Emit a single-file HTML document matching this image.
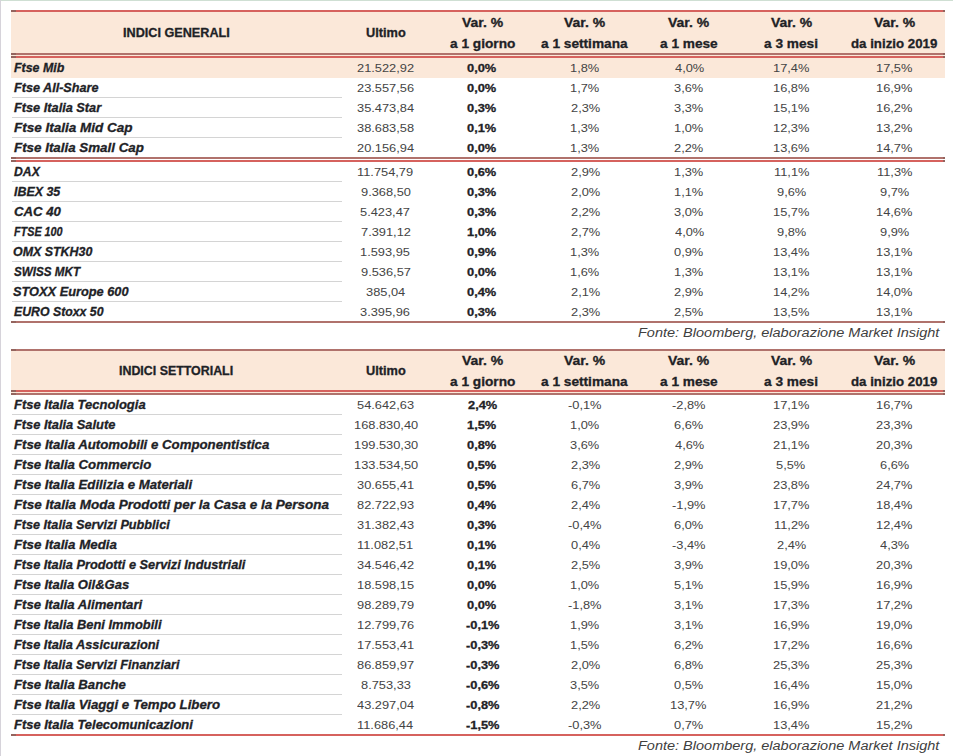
<!DOCTYPE html>
<html><head><meta charset="utf-8"><title>Indici</title><style>
*{margin:0;padding:0;box-sizing:border-box}
html,body{width:953px;height:756px;overflow:hidden;background:#fff}
body{position:relative;font-family:"Liberation Sans",sans-serif}
.r{position:absolute}
.t{position:absolute;white-space:nowrap;line-height:1;transform-origin:0 0}
.nm{font-weight:bold;font-style:italic;color:#1e2226;-webkit-text-stroke:0.3px #1e2226}
.nr{color:#444444}
.nb{font-weight:bold;color:#1e2226;-webkit-text-stroke:0.3px #1e2226}
.h{font-weight:bold;color:#1e2226;-webkit-text-stroke:0.3px #1e2226}
.fo{font-style:italic;color:#404040}
</style></head>
<body>
<div class="r" style="left:0px;top:0px;width:953px;height:1px;background:#cfdfd3"></div>
<div class="r" style="left:0px;top:0px;width:1px;height:756px;background:#d6d3da"></div>
<div class="r" style="left:11px;top:10px;width:934px;height:2px;background:#d6625e"></div>
<div class="r" style="left:11px;top:10px;width:5px;height:2px;background:#94645e"></div>
<div class="r" style="left:943px;top:10px;width:2px;height:2px;background:#94645e"></div>
<div class="r" style="left:11px;top:12px;width:934px;height:46px;background:#fbe8d9"></div>
<div class="r" style="left:11px;top:53px;width:934px;height:2px;background:#b0726c"></div>
<div class="r" style="left:11px;top:53px;width:5px;height:2px;background:#94645e"></div>
<div class="r" style="left:943px;top:53px;width:2px;height:2px;background:#94645e"></div>
<div class="r" style="left:11px;top:56px;width:934px;height:2px;background:#d6625e"></div>
<div class="r" style="left:11px;top:56px;width:5px;height:2px;background:#94645e"></div>
<div class="r" style="left:943px;top:56px;width:2px;height:2px;background:#94645e"></div>
<div id="t0" class="t h" style="left:122.50px;top:27.02px;font-size:12.5px;transform:scaleX(1.0114);">INDICI GENERALI</div>
<div id="t1" class="t h" style="left:366.16px;top:27.02px;font-size:12.5px;transform:scaleX(1.0211);">Ultimo</div>
<div id="t2" class="t h" style="left:461.71px;top:17.02px;font-size:12.5px;transform:scaleX(1.1162);">Var. %</div>
<div id="t3" class="t h" style="left:450.17px;top:38.02px;font-size:12.5px;transform:scaleX(1.0949);">a 1 giorno</div>
<div id="t4" class="t h" style="left:564.21px;top:17.02px;font-size:12.5px;transform:scaleX(1.1162);">Var. %</div>
<div id="t5" class="t h" style="left:541.07px;top:38.02px;font-size:12.5px;transform:scaleX(1.0937);">a 1 settimana</div>
<div id="t6" class="t h" style="left:667.70px;top:17.02px;font-size:12.5px;transform:scaleX(1.1162);">Var. %</div>
<div id="t7" class="t h" style="left:659.72px;top:38.02px;font-size:12.5px;transform:scaleX(1.0923);">a 1 mese</div>
<div id="t8" class="t h" style="left:770.71px;top:17.02px;font-size:12.5px;transform:scaleX(1.1162);">Var. %</div>
<div id="t9" class="t h" style="left:764.31px;top:38.02px;font-size:12.5px;transform:scaleX(1.0938);">a 3 mesi</div>
<div id="t10" class="t h" style="left:873.71px;top:17.02px;font-size:12.5px;transform:scaleX(1.1162);">Var. %</div>
<div id="t11" class="t h" style="left:851.32px;top:38.02px;font-size:12.5px;transform:scaleX(1.0617);">da inizio 2019</div>
<div class="r" style="left:11px;top:58px;width:934px;height:20px;background:#fbe8d9"></div>
<div id="t12" class="t nm" style="left:14.45px;top:61.92px;font-size:12.5px;transform:scaleX(0.9902);">Ftse Mib</div>
<div id="t13" class="t nr" style="left:357.16px;top:62.85px;font-size:11.4px;transform:scaleX(1.1260);">21.522,92</div>
<div id="t14" class="t nb" style="left:467.44px;top:62.85px;font-size:11.4px;transform:scaleX(1.1260);">0,0%</div>
<div id="t15" class="t nr" style="left:569.89px;top:62.85px;font-size:11.4px;transform:scaleX(1.1260);">1,8%</div>
<div id="t16" class="t nr" style="left:674.52px;top:62.85px;font-size:11.4px;transform:scaleX(1.1260);">4,0%</div>
<div id="t17" class="t nr" style="left:772.97px;top:62.85px;font-size:11.4px;transform:scaleX(1.1260);">17,4%</div>
<div id="t18" class="t nr" style="left:875.97px;top:62.85px;font-size:11.4px;transform:scaleX(1.1260);">17,5%</div>
<div class="r" style="left:12px;top:97px;width:330px;height:1px;background:#d4d4d4"></div>
<div id="t19" class="t nm" style="left:14.46px;top:81.92px;font-size:12.5px;transform:scaleX(1.0107);">Ftse All-Share</div>
<div id="t20" class="t nr" style="left:357.16px;top:82.85px;font-size:11.4px;transform:scaleX(1.1260);">23.557,56</div>
<div id="t21" class="t nb" style="left:467.44px;top:82.85px;font-size:11.4px;transform:scaleX(1.1260);">0,0%</div>
<div id="t22" class="t nr" style="left:569.89px;top:82.85px;font-size:11.4px;transform:scaleX(1.1260);">1,7%</div>
<div id="t23" class="t nr" style="left:673.97px;top:82.85px;font-size:11.4px;transform:scaleX(1.1260);">3,6%</div>
<div id="t24" class="t nr" style="left:772.97px;top:82.85px;font-size:11.4px;transform:scaleX(1.1260);">16,8%</div>
<div id="t25" class="t nr" style="left:875.97px;top:82.85px;font-size:11.4px;transform:scaleX(1.1260);">16,9%</div>
<div class="r" style="left:12px;top:117px;width:330px;height:1px;background:#d4d4d4"></div>
<div id="t26" class="t nm" style="left:14.46px;top:101.92px;font-size:12.5px;transform:scaleX(1.0198);">Ftse Italia Star</div>
<div id="t27" class="t nr" style="left:356.60px;top:102.85px;font-size:11.4px;transform:scaleX(1.1260);">35.473,84</div>
<div id="t28" class="t nb" style="left:467.44px;top:102.85px;font-size:11.4px;transform:scaleX(1.1260);">0,3%</div>
<div id="t29" class="t nr" style="left:570.64px;top:102.85px;font-size:11.4px;transform:scaleX(1.1260);">2,3%</div>
<div id="t30" class="t nr" style="left:673.97px;top:102.85px;font-size:11.4px;transform:scaleX(1.1260);">3,3%</div>
<div id="t31" class="t nr" style="left:772.97px;top:102.85px;font-size:11.4px;transform:scaleX(1.1260);">15,1%</div>
<div id="t32" class="t nr" style="left:875.97px;top:102.85px;font-size:11.4px;transform:scaleX(1.1260);">16,2%</div>
<div class="r" style="left:12px;top:137px;width:330px;height:1px;background:#d4d4d4"></div>
<div id="t33" class="t nm" style="left:14.45px;top:121.92px;font-size:12.5px;transform:scaleX(1.0809);">Ftse Italia Mid Cap</div>
<div id="t34" class="t nr" style="left:357.16px;top:122.85px;font-size:11.4px;transform:scaleX(1.1260);">38.683,58</div>
<div id="t35" class="t nb" style="left:467.44px;top:122.85px;font-size:11.4px;transform:scaleX(1.1260);">0,1%</div>
<div id="t36" class="t nr" style="left:569.89px;top:122.85px;font-size:11.4px;transform:scaleX(1.1260);">1,3%</div>
<div id="t37" class="t nr" style="left:673.90px;top:122.85px;font-size:11.4px;transform:scaleX(1.1260);">1,0%</div>
<div id="t38" class="t nr" style="left:772.97px;top:122.85px;font-size:11.4px;transform:scaleX(1.1260);">12,3%</div>
<div id="t39" class="t nr" style="left:875.97px;top:122.85px;font-size:11.4px;transform:scaleX(1.1260);">13,2%</div>
<div id="t40" class="t nm" style="left:14.47px;top:141.92px;font-size:12.5px;transform:scaleX(1.0686);">Ftse Italia Small Cap</div>
<div id="t41" class="t nr" style="left:356.60px;top:142.85px;font-size:11.4px;transform:scaleX(1.1260);">20.156,94</div>
<div id="t42" class="t nb" style="left:467.44px;top:142.85px;font-size:11.4px;transform:scaleX(1.1260);">0,0%</div>
<div id="t43" class="t nr" style="left:569.89px;top:142.85px;font-size:11.4px;transform:scaleX(1.1260);">1,3%</div>
<div id="t44" class="t nr" style="left:673.97px;top:142.85px;font-size:11.4px;transform:scaleX(1.1260);">2,2%</div>
<div id="t45" class="t nr" style="left:772.97px;top:142.85px;font-size:11.4px;transform:scaleX(1.1260);">13,6%</div>
<div id="t46" class="t nr" style="left:875.97px;top:142.85px;font-size:11.4px;transform:scaleX(1.1260);">14,7%</div>
<div class="r" style="left:11px;top:157px;width:934px;height:2px;background:#b0726c"></div>
<div class="r" style="left:11px;top:157px;width:5px;height:2px;background:#94645e"></div>
<div class="r" style="left:943px;top:157px;width:2px;height:2px;background:#94645e"></div>
<div class="r" style="left:11px;top:160px;width:934px;height:2px;background:#d6625e"></div>
<div class="r" style="left:11px;top:160px;width:5px;height:2px;background:#94645e"></div>
<div class="r" style="left:943px;top:160px;width:2px;height:2px;background:#94645e"></div>
<div class="r" style="left:12px;top:181px;width:330px;height:1px;background:#d4d4d4"></div>
<div id="t47" class="t nm" style="left:14.45px;top:165.92px;font-size:12.5px;transform:scaleX(0.9778);">DAX</div>
<div id="t48" class="t nr" style="left:357.23px;top:166.85px;font-size:11.4px;transform:scaleX(1.1260);">11.754,79</div>
<div id="t49" class="t nb" style="left:467.44px;top:166.85px;font-size:11.4px;transform:scaleX(1.1260);">0,6%</div>
<div id="t50" class="t nr" style="left:570.64px;top:166.85px;font-size:11.4px;transform:scaleX(1.1260);">2,9%</div>
<div id="t51" class="t nr" style="left:673.90px;top:166.85px;font-size:11.4px;transform:scaleX(1.1260);">1,3%</div>
<div id="t52" class="t nr" style="left:773.62px;top:166.85px;font-size:11.4px;transform:scaleX(1.1260);">11,1%</div>
<div id="t53" class="t nr" style="left:876.62px;top:166.85px;font-size:11.4px;transform:scaleX(1.1260);">11,3%</div>
<div class="r" style="left:12px;top:201px;width:330px;height:1px;background:#d4d4d4"></div>
<div id="t54" class="t nm" style="left:14.46px;top:185.92px;font-size:12.5px;transform:scaleX(0.9936);">IBEX 35</div>
<div id="t55" class="t nr" style="left:360.56px;top:186.85px;font-size:11.4px;transform:scaleX(1.1260);">9.368,50</div>
<div id="t56" class="t nb" style="left:467.44px;top:186.85px;font-size:11.4px;transform:scaleX(1.1260);">0,3%</div>
<div id="t57" class="t nr" style="left:570.64px;top:186.85px;font-size:11.4px;transform:scaleX(1.1260);">2,0%</div>
<div id="t58" class="t nr" style="left:673.90px;top:186.85px;font-size:11.4px;transform:scaleX(1.1260);">1,1%</div>
<div id="t59" class="t nr" style="left:777.02px;top:186.85px;font-size:11.4px;transform:scaleX(1.1260);">9,6%</div>
<div id="t60" class="t nr" style="left:880.02px;top:186.85px;font-size:11.4px;transform:scaleX(1.1260);">9,7%</div>
<div class="r" style="left:12px;top:221px;width:330px;height:1px;background:#d4d4d4"></div>
<div id="t61" class="t nm" style="left:14.35px;top:205.92px;font-size:12.5px;transform:scaleX(1.0556);">CAC 40</div>
<div id="t62" class="t nr" style="left:360.05px;top:206.85px;font-size:11.4px;transform:scaleX(1.1260);">5.423,47</div>
<div id="t63" class="t nb" style="left:467.44px;top:206.85px;font-size:11.4px;transform:scaleX(1.1260);">0,3%</div>
<div id="t64" class="t nr" style="left:570.64px;top:206.85px;font-size:11.4px;transform:scaleX(1.1260);">2,2%</div>
<div id="t65" class="t nr" style="left:673.97px;top:206.85px;font-size:11.4px;transform:scaleX(1.1260);">3,0%</div>
<div id="t66" class="t nr" style="left:772.97px;top:206.85px;font-size:11.4px;transform:scaleX(1.1260);">15,7%</div>
<div id="t67" class="t nr" style="left:875.97px;top:206.85px;font-size:11.4px;transform:scaleX(1.1260);">14,6%</div>
<div class="r" style="left:12px;top:241px;width:330px;height:1px;background:#d4d4d4"></div>
<div id="t68" class="t nm" style="left:14.46px;top:225.92px;font-size:12.5px;transform:scaleX(0.8632);">FTSE 100</div>
<div id="t69" class="t nr" style="left:360.61px;top:226.85px;font-size:11.4px;transform:scaleX(1.1260);">7.391,12</div>
<div id="t70" class="t nb" style="left:467.44px;top:226.85px;font-size:11.4px;transform:scaleX(1.1260);">1,0%</div>
<div id="t71" class="t nr" style="left:570.64px;top:226.85px;font-size:11.4px;transform:scaleX(1.1260);">2,7%</div>
<div id="t72" class="t nr" style="left:674.52px;top:226.85px;font-size:11.4px;transform:scaleX(1.1260);">4,0%</div>
<div id="t73" class="t nr" style="left:777.02px;top:226.85px;font-size:11.4px;transform:scaleX(1.1260);">9,8%</div>
<div id="t74" class="t nr" style="left:880.02px;top:226.85px;font-size:11.4px;transform:scaleX(1.1260);">9,9%</div>
<div class="r" style="left:12px;top:261px;width:330px;height:1px;background:#d4d4d4"></div>
<div id="t75" class="t nm" style="left:13.49px;top:245.92px;font-size:12.5px;transform:scaleX(0.9937);">OMX STKH30</div>
<div id="t76" class="t nr" style="left:360.00px;top:246.85px;font-size:11.4px;transform:scaleX(1.1260);">1.593,95</div>
<div id="t77" class="t nb" style="left:467.44px;top:246.85px;font-size:11.4px;transform:scaleX(1.1260);">0,9%</div>
<div id="t78" class="t nr" style="left:569.89px;top:246.85px;font-size:11.4px;transform:scaleX(1.1260);">1,3%</div>
<div id="t79" class="t nr" style="left:673.97px;top:246.85px;font-size:11.4px;transform:scaleX(1.1260);">0,9%</div>
<div id="t80" class="t nr" style="left:772.97px;top:246.85px;font-size:11.4px;transform:scaleX(1.1260);">13,4%</div>
<div id="t81" class="t nr" style="left:875.97px;top:246.85px;font-size:11.4px;transform:scaleX(1.1260);">13,1%</div>
<div class="r" style="left:12px;top:281px;width:330px;height:1px;background:#d4d4d4"></div>
<div id="t82" class="t nm" style="left:13.60px;top:265.92px;font-size:12.5px;transform:scaleX(0.9324);">SWISS MKT</div>
<div id="t83" class="t nr" style="left:360.61px;top:266.85px;font-size:11.4px;transform:scaleX(1.1260);">9.536,57</div>
<div id="t84" class="t nb" style="left:467.44px;top:266.85px;font-size:11.4px;transform:scaleX(1.1260);">0,0%</div>
<div id="t85" class="t nr" style="left:569.89px;top:266.85px;font-size:11.4px;transform:scaleX(1.1260);">1,6%</div>
<div id="t86" class="t nr" style="left:673.90px;top:266.85px;font-size:11.4px;transform:scaleX(1.1260);">1,3%</div>
<div id="t87" class="t nr" style="left:772.97px;top:266.85px;font-size:11.4px;transform:scaleX(1.1260);">13,1%</div>
<div id="t88" class="t nr" style="left:875.97px;top:266.85px;font-size:11.4px;transform:scaleX(1.1260);">13,1%</div>
<div class="r" style="left:12px;top:301px;width:330px;height:1px;background:#d4d4d4"></div>
<div id="t89" class="t nm" style="left:13.42px;top:285.92px;font-size:12.5px;transform:scaleX(1.0223);">STOXX Europe 600</div>
<div id="t90" class="t nr" style="left:365.73px;top:286.85px;font-size:11.4px;transform:scaleX(1.1260);">385,04</div>
<div id="t91" class="t nb" style="left:467.44px;top:286.85px;font-size:11.4px;transform:scaleX(1.1260);">0,4%</div>
<div id="t92" class="t nr" style="left:570.64px;top:286.85px;font-size:11.4px;transform:scaleX(1.1260);">2,1%</div>
<div id="t93" class="t nr" style="left:673.97px;top:286.85px;font-size:11.4px;transform:scaleX(1.1260);">2,9%</div>
<div id="t94" class="t nr" style="left:772.97px;top:286.85px;font-size:11.4px;transform:scaleX(1.1260);">14,2%</div>
<div id="t95" class="t nr" style="left:875.97px;top:286.85px;font-size:11.4px;transform:scaleX(1.1260);">14,0%</div>
<div id="t96" class="t nm" style="left:14.47px;top:305.92px;font-size:12.5px;transform:scaleX(0.9835);">EURO Stoxx 50</div>
<div id="t97" class="t nr" style="left:360.05px;top:306.85px;font-size:11.4px;transform:scaleX(1.1260);">3.395,96</div>
<div id="t98" class="t nb" style="left:467.44px;top:306.85px;font-size:11.4px;transform:scaleX(1.1260);">0,3%</div>
<div id="t99" class="t nr" style="left:570.64px;top:306.85px;font-size:11.4px;transform:scaleX(1.1260);">2,3%</div>
<div id="t100" class="t nr" style="left:673.97px;top:306.85px;font-size:11.4px;transform:scaleX(1.1260);">2,5%</div>
<div id="t101" class="t nr" style="left:772.97px;top:306.85px;font-size:11.4px;transform:scaleX(1.1260);">13,5%</div>
<div id="t102" class="t nr" style="left:875.97px;top:306.85px;font-size:11.4px;transform:scaleX(1.1260);">13,1%</div>
<div class="r" style="left:11px;top:321px;width:934px;height:2px;background:#b0726c"></div>
<div class="r" style="left:11px;top:321px;width:5px;height:2px;background:#94645e"></div>
<div class="r" style="left:943px;top:321px;width:2px;height:2px;background:#94645e"></div>
<div id="t103" class="t fo" style="left:638.33px;top:326.94px;font-size:12px;transform:scaleX(1.2080);">Fonte: Bloomberg, elaborazione Market Insight</div>
<div class="r" style="left:11px;top:349px;width:934px;height:2px;background:#b0726c"></div>
<div class="r" style="left:11px;top:349px;width:5px;height:2px;background:#94645e"></div>
<div class="r" style="left:943px;top:349px;width:2px;height:2px;background:#94645e"></div>
<div class="r" style="left:11px;top:351px;width:934px;height:44px;background:#fbe8d9"></div>
<div class="r" style="left:11px;top:390px;width:934px;height:2px;background:#d6625e"></div>
<div class="r" style="left:11px;top:390px;width:5px;height:2px;background:#94645e"></div>
<div class="r" style="left:943px;top:390px;width:2px;height:2px;background:#94645e"></div>
<div class="r" style="left:11px;top:393px;width:934px;height:2px;background:#b0726c"></div>
<div class="r" style="left:11px;top:393px;width:5px;height:2px;background:#94645e"></div>
<div class="r" style="left:943px;top:393px;width:2px;height:2px;background:#94645e"></div>
<div id="t104" class="t h" style="left:118.83px;top:365.12px;font-size:12.5px;transform:scaleX(0.9920);">INDICI SETTORIALI</div>
<div id="t105" class="t h" style="left:366.16px;top:365.12px;font-size:12.5px;transform:scaleX(1.0211);">Ultimo</div>
<div id="t106" class="t h" style="left:461.71px;top:355.02px;font-size:12.5px;transform:scaleX(1.1162);">Var. %</div>
<div id="t107" class="t h" style="left:450.17px;top:376.02px;font-size:12.5px;transform:scaleX(1.0949);">a 1 giorno</div>
<div id="t108" class="t h" style="left:564.21px;top:355.02px;font-size:12.5px;transform:scaleX(1.1162);">Var. %</div>
<div id="t109" class="t h" style="left:541.07px;top:376.02px;font-size:12.5px;transform:scaleX(1.0937);">a 1 settimana</div>
<div id="t110" class="t h" style="left:667.70px;top:355.02px;font-size:12.5px;transform:scaleX(1.1162);">Var. %</div>
<div id="t111" class="t h" style="left:659.72px;top:376.02px;font-size:12.5px;transform:scaleX(1.0923);">a 1 mese</div>
<div id="t112" class="t h" style="left:770.71px;top:355.02px;font-size:12.5px;transform:scaleX(1.1162);">Var. %</div>
<div id="t113" class="t h" style="left:764.31px;top:376.02px;font-size:12.5px;transform:scaleX(1.0938);">a 3 mesi</div>
<div id="t114" class="t h" style="left:873.71px;top:355.02px;font-size:12.5px;transform:scaleX(1.1162);">Var. %</div>
<div id="t115" class="t h" style="left:851.32px;top:376.02px;font-size:12.5px;transform:scaleX(1.0617);">da inizio 2019</div>
<div class="r" style="left:12px;top:414px;width:330px;height:1px;background:#d4d4d4"></div>
<div id="t116" class="t nm" style="left:14.46px;top:398.92px;font-size:12.5px;transform:scaleX(1.0394);">Ftse Italia Tecnologia</div>
<div id="t117" class="t nr" style="left:357.09px;top:399.85px;font-size:11.4px;transform:scaleX(1.1260);">54.642,63</div>
<div id="t118" class="t nb" style="left:468.00px;top:399.85px;font-size:11.4px;transform:scaleX(1.1260);">2,4%</div>
<div id="t119" class="t nr" style="left:568.15px;top:399.85px;font-size:11.4px;transform:scaleX(1.1260);">-0,1%</div>
<div id="t120" class="t nr" style="left:672.11px;top:399.85px;font-size:11.4px;transform:scaleX(1.1260);">-2,8%</div>
<div id="t121" class="t nr" style="left:772.97px;top:399.85px;font-size:11.4px;transform:scaleX(1.1260);">17,1%</div>
<div id="t122" class="t nr" style="left:875.97px;top:399.85px;font-size:11.4px;transform:scaleX(1.1260);">16,7%</div>
<div class="r" style="left:12px;top:434px;width:330px;height:1px;background:#d4d4d4"></div>
<div id="t123" class="t nm" style="left:14.46px;top:418.92px;font-size:12.5px;transform:scaleX(1.0273);">Ftse Italia Salute</div>
<div id="t124" class="t nr" style="left:353.54px;top:419.85px;font-size:11.4px;transform:scaleX(1.1260);">168.830,40</div>
<div id="t125" class="t nb" style="left:467.44px;top:419.85px;font-size:11.4px;transform:scaleX(1.1260);">1,5%</div>
<div id="t126" class="t nr" style="left:569.89px;top:419.85px;font-size:11.4px;transform:scaleX(1.1260);">1,0%</div>
<div id="t127" class="t nr" style="left:673.97px;top:419.85px;font-size:11.4px;transform:scaleX(1.1260);">6,6%</div>
<div id="t128" class="t nr" style="left:772.97px;top:419.85px;font-size:11.4px;transform:scaleX(1.1260);">23,9%</div>
<div id="t129" class="t nr" style="left:875.97px;top:419.85px;font-size:11.4px;transform:scaleX(1.1260);">23,3%</div>
<div class="r" style="left:12px;top:454px;width:330px;height:1px;background:#d4d4d4"></div>
<div id="t130" class="t nm" style="left:14.47px;top:438.92px;font-size:12.5px;transform:scaleX(1.0585);">Ftse Italia Automobili e Componentistica</div>
<div id="t131" class="t nr" style="left:353.54px;top:439.85px;font-size:11.4px;transform:scaleX(1.1260);">199.530,30</div>
<div id="t132" class="t nb" style="left:467.44px;top:439.85px;font-size:11.4px;transform:scaleX(1.1260);">0,8%</div>
<div id="t133" class="t nr" style="left:570.08px;top:439.85px;font-size:11.4px;transform:scaleX(1.1260);">3,6%</div>
<div id="t134" class="t nr" style="left:674.52px;top:439.85px;font-size:11.4px;transform:scaleX(1.1260);">4,6%</div>
<div id="t135" class="t nr" style="left:772.97px;top:439.85px;font-size:11.4px;transform:scaleX(1.1260);">21,1%</div>
<div id="t136" class="t nr" style="left:875.97px;top:439.85px;font-size:11.4px;transform:scaleX(1.1260);">20,3%</div>
<div class="r" style="left:12px;top:474px;width:330px;height:1px;background:#d4d4d4"></div>
<div id="t137" class="t nm" style="left:14.47px;top:458.92px;font-size:12.5px;transform:scaleX(1.0562);">Ftse Italia Commercio</div>
<div id="t138" class="t nr" style="left:353.54px;top:459.85px;font-size:11.4px;transform:scaleX(1.1260);">133.534,50</div>
<div id="t139" class="t nb" style="left:467.44px;top:459.85px;font-size:11.4px;transform:scaleX(1.1260);">0,5%</div>
<div id="t140" class="t nr" style="left:570.64px;top:459.85px;font-size:11.4px;transform:scaleX(1.1260);">2,3%</div>
<div id="t141" class="t nr" style="left:673.97px;top:459.85px;font-size:11.4px;transform:scaleX(1.1260);">2,9%</div>
<div id="t142" class="t nr" style="left:776.46px;top:459.85px;font-size:11.4px;transform:scaleX(1.1260);">5,5%</div>
<div id="t143" class="t nr" style="left:880.02px;top:459.85px;font-size:11.4px;transform:scaleX(1.1260);">6,6%</div>
<div class="r" style="left:12px;top:494px;width:330px;height:1px;background:#d4d4d4"></div>
<div id="t144" class="t nm" style="left:14.46px;top:478.92px;font-size:12.5px;transform:scaleX(1.0556);">Ftse Italia Edilizia e Materiali</div>
<div id="t145" class="t nr" style="left:357.16px;top:479.85px;font-size:11.4px;transform:scaleX(1.1260);">30.655,41</div>
<div id="t146" class="t nb" style="left:467.44px;top:479.85px;font-size:11.4px;transform:scaleX(1.1260);">0,5%</div>
<div id="t147" class="t nr" style="left:570.64px;top:479.85px;font-size:11.4px;transform:scaleX(1.1260);">6,7%</div>
<div id="t148" class="t nr" style="left:673.97px;top:479.85px;font-size:11.4px;transform:scaleX(1.1260);">3,9%</div>
<div id="t149" class="t nr" style="left:772.97px;top:479.85px;font-size:11.4px;transform:scaleX(1.1260);">23,8%</div>
<div id="t150" class="t nr" style="left:875.97px;top:479.85px;font-size:11.4px;transform:scaleX(1.1260);">24,7%</div>
<div class="r" style="left:12px;top:514px;width:330px;height:1px;background:#d4d4d4"></div>
<div id="t151" class="t nm" style="left:14.47px;top:498.92px;font-size:12.5px;transform:scaleX(1.0771);">Ftse Italia Moda Prodotti per la Casa e la Persona</div>
<div id="t152" class="t nr" style="left:357.16px;top:499.85px;font-size:11.4px;transform:scaleX(1.1260);">82.722,93</div>
<div id="t153" class="t nb" style="left:467.44px;top:499.85px;font-size:11.4px;transform:scaleX(1.1260);">0,4%</div>
<div id="t154" class="t nr" style="left:570.64px;top:499.85px;font-size:11.4px;transform:scaleX(1.1260);">2,4%</div>
<div id="t155" class="t nr" style="left:672.11px;top:499.85px;font-size:11.4px;transform:scaleX(1.1260);">-1,9%</div>
<div id="t156" class="t nr" style="left:772.97px;top:499.85px;font-size:11.4px;transform:scaleX(1.1260);">17,7%</div>
<div id="t157" class="t nr" style="left:875.97px;top:499.85px;font-size:11.4px;transform:scaleX(1.1260);">18,4%</div>
<div class="r" style="left:12px;top:534px;width:330px;height:1px;background:#d4d4d4"></div>
<div id="t158" class="t nm" style="left:14.46px;top:518.92px;font-size:12.5px;transform:scaleX(1.0143);">Ftse Italia Servizi Pubblici</div>
<div id="t159" class="t nr" style="left:357.16px;top:519.85px;font-size:11.4px;transform:scaleX(1.1260);">31.382,43</div>
<div id="t160" class="t nb" style="left:467.44px;top:519.85px;font-size:11.4px;transform:scaleX(1.1260);">0,3%</div>
<div id="t161" class="t nr" style="left:568.15px;top:519.85px;font-size:11.4px;transform:scaleX(1.1260);">-0,4%</div>
<div id="t162" class="t nr" style="left:673.97px;top:519.85px;font-size:11.4px;transform:scaleX(1.1260);">6,0%</div>
<div id="t163" class="t nr" style="left:773.62px;top:519.85px;font-size:11.4px;transform:scaleX(1.1260);">11,2%</div>
<div id="t164" class="t nr" style="left:875.97px;top:519.85px;font-size:11.4px;transform:scaleX(1.1260);">12,4%</div>
<div class="r" style="left:12px;top:554px;width:330px;height:1px;background:#d4d4d4"></div>
<div id="t165" class="t nm" style="left:14.47px;top:538.92px;font-size:12.5px;transform:scaleX(1.0660);">Ftse Italia Media</div>
<div id="t166" class="t nr" style="left:357.32px;top:539.85px;font-size:11.4px;transform:scaleX(1.1260);">11.082,51</div>
<div id="t167" class="t nb" style="left:467.44px;top:539.85px;font-size:11.4px;transform:scaleX(1.1260);">0,1%</div>
<div id="t168" class="t nr" style="left:570.64px;top:539.85px;font-size:11.4px;transform:scaleX(1.1260);">0,4%</div>
<div id="t169" class="t nr" style="left:672.11px;top:539.85px;font-size:11.4px;transform:scaleX(1.1260);">-3,4%</div>
<div id="t170" class="t nr" style="left:777.02px;top:539.85px;font-size:11.4px;transform:scaleX(1.1260);">2,4%</div>
<div id="t171" class="t nr" style="left:880.02px;top:539.85px;font-size:11.4px;transform:scaleX(1.1260);">4,3%</div>
<div class="r" style="left:12px;top:574px;width:330px;height:1px;background:#d4d4d4"></div>
<div id="t172" class="t nm" style="left:14.46px;top:558.92px;font-size:12.5px;transform:scaleX(1.0216);">Ftse Italia Prodotti e Servizi Industriali</div>
<div id="t173" class="t nr" style="left:357.16px;top:559.85px;font-size:11.4px;transform:scaleX(1.1260);">34.546,42</div>
<div id="t174" class="t nb" style="left:467.44px;top:559.85px;font-size:11.4px;transform:scaleX(1.1260);">0,1%</div>
<div id="t175" class="t nr" style="left:570.64px;top:559.85px;font-size:11.4px;transform:scaleX(1.1260);">2,5%</div>
<div id="t176" class="t nr" style="left:673.97px;top:559.85px;font-size:11.4px;transform:scaleX(1.1260);">3,9%</div>
<div id="t177" class="t nr" style="left:772.97px;top:559.85px;font-size:11.4px;transform:scaleX(1.1260);">19,0%</div>
<div id="t178" class="t nr" style="left:875.97px;top:559.85px;font-size:11.4px;transform:scaleX(1.1260);">20,3%</div>
<div class="r" style="left:12px;top:594px;width:330px;height:1px;background:#d4d4d4"></div>
<div id="t179" class="t nm" style="left:14.46px;top:578.92px;font-size:12.5px;transform:scaleX(1.0436);">Ftse Italia Oil&amp;Gas</div>
<div id="t180" class="t nr" style="left:357.04px;top:579.85px;font-size:11.4px;transform:scaleX(1.1260);">18.598,15</div>
<div id="t181" class="t nb" style="left:467.44px;top:579.85px;font-size:11.4px;transform:scaleX(1.1260);">0,0%</div>
<div id="t182" class="t nr" style="left:569.89px;top:579.85px;font-size:11.4px;transform:scaleX(1.1260);">1,0%</div>
<div id="t183" class="t nr" style="left:673.90px;top:579.85px;font-size:11.4px;transform:scaleX(1.1260);">5,1%</div>
<div id="t184" class="t nr" style="left:772.97px;top:579.85px;font-size:11.4px;transform:scaleX(1.1260);">15,9%</div>
<div id="t185" class="t nr" style="left:875.97px;top:579.85px;font-size:11.4px;transform:scaleX(1.1260);">16,9%</div>
<div class="r" style="left:12px;top:614px;width:330px;height:1px;background:#d4d4d4"></div>
<div id="t186" class="t nm" style="left:14.46px;top:598.92px;font-size:12.5px;transform:scaleX(1.0525);">Ftse Italia Alimentari</div>
<div id="t187" class="t nr" style="left:357.16px;top:599.85px;font-size:11.4px;transform:scaleX(1.1260);">98.289,79</div>
<div id="t188" class="t nb" style="left:467.44px;top:599.85px;font-size:11.4px;transform:scaleX(1.1260);">0,0%</div>
<div id="t189" class="t nr" style="left:568.15px;top:599.85px;font-size:11.4px;transform:scaleX(1.1260);">-1,8%</div>
<div id="t190" class="t nr" style="left:673.97px;top:599.85px;font-size:11.4px;transform:scaleX(1.1260);">3,1%</div>
<div id="t191" class="t nr" style="left:772.97px;top:599.85px;font-size:11.4px;transform:scaleX(1.1260);">17,3%</div>
<div id="t192" class="t nr" style="left:875.97px;top:599.85px;font-size:11.4px;transform:scaleX(1.1260);">17,2%</div>
<div class="r" style="left:12px;top:634px;width:330px;height:1px;background:#d4d4d4"></div>
<div id="t193" class="t nm" style="left:14.46px;top:618.92px;font-size:12.5px;transform:scaleX(1.0306);">Ftse Italia Beni Immobili</div>
<div id="t194" class="t nr" style="left:357.04px;top:619.85px;font-size:11.4px;transform:scaleX(1.1260);">12.799,76</div>
<div id="t195" class="t nb" style="left:465.68px;top:619.85px;font-size:11.4px;transform:scaleX(1.1260);">-0,1%</div>
<div id="t196" class="t nr" style="left:569.89px;top:619.85px;font-size:11.4px;transform:scaleX(1.1260);">1,9%</div>
<div id="t197" class="t nr" style="left:673.97px;top:619.85px;font-size:11.4px;transform:scaleX(1.1260);">3,1%</div>
<div id="t198" class="t nr" style="left:772.97px;top:619.85px;font-size:11.4px;transform:scaleX(1.1260);">16,9%</div>
<div id="t199" class="t nr" style="left:875.97px;top:619.85px;font-size:11.4px;transform:scaleX(1.1260);">19,0%</div>
<div class="r" style="left:12px;top:654px;width:330px;height:1px;background:#d4d4d4"></div>
<div id="t200" class="t nm" style="left:14.46px;top:638.92px;font-size:12.5px;transform:scaleX(1.0224);">Ftse Italia Assicurazioni</div>
<div id="t201" class="t nr" style="left:357.04px;top:639.85px;font-size:11.4px;transform:scaleX(1.1260);">17.553,41</div>
<div id="t202" class="t nb" style="left:465.68px;top:639.85px;font-size:11.4px;transform:scaleX(1.1260);">-0,3%</div>
<div id="t203" class="t nr" style="left:569.89px;top:639.85px;font-size:11.4px;transform:scaleX(1.1260);">1,5%</div>
<div id="t204" class="t nr" style="left:673.97px;top:639.85px;font-size:11.4px;transform:scaleX(1.1260);">6,2%</div>
<div id="t205" class="t nr" style="left:772.97px;top:639.85px;font-size:11.4px;transform:scaleX(1.1260);">17,2%</div>
<div id="t206" class="t nr" style="left:875.97px;top:639.85px;font-size:11.4px;transform:scaleX(1.1260);">16,6%</div>
<div class="r" style="left:12px;top:674px;width:330px;height:1px;background:#d4d4d4"></div>
<div id="t207" class="t nm" style="left:14.46px;top:658.92px;font-size:12.5px;transform:scaleX(1.0134);">Ftse Italia Servizi Finanziari</div>
<div id="t208" class="t nr" style="left:357.16px;top:659.85px;font-size:11.4px;transform:scaleX(1.1260);">86.859,97</div>
<div id="t209" class="t nb" style="left:465.68px;top:659.85px;font-size:11.4px;transform:scaleX(1.1260);">-0,3%</div>
<div id="t210" class="t nr" style="left:570.64px;top:659.85px;font-size:11.4px;transform:scaleX(1.1260);">2,0%</div>
<div id="t211" class="t nr" style="left:673.97px;top:659.85px;font-size:11.4px;transform:scaleX(1.1260);">6,8%</div>
<div id="t212" class="t nr" style="left:772.97px;top:659.85px;font-size:11.4px;transform:scaleX(1.1260);">25,3%</div>
<div id="t213" class="t nr" style="left:875.97px;top:659.85px;font-size:11.4px;transform:scaleX(1.1260);">25,3%</div>
<div class="r" style="left:12px;top:694px;width:330px;height:1px;background:#d4d4d4"></div>
<div id="t214" class="t nm" style="left:14.46px;top:678.92px;font-size:12.5px;transform:scaleX(1.0528);">Ftse Italia Banche</div>
<div id="t215" class="t nr" style="left:360.61px;top:679.85px;font-size:11.4px;transform:scaleX(1.1260);">8.753,33</div>
<div id="t216" class="t nb" style="left:465.68px;top:679.85px;font-size:11.4px;transform:scaleX(1.1260);">-0,6%</div>
<div id="t217" class="t nr" style="left:570.08px;top:679.85px;font-size:11.4px;transform:scaleX(1.1260);">3,5%</div>
<div id="t218" class="t nr" style="left:673.97px;top:679.85px;font-size:11.4px;transform:scaleX(1.1260);">0,5%</div>
<div id="t219" class="t nr" style="left:772.97px;top:679.85px;font-size:11.4px;transform:scaleX(1.1260);">16,4%</div>
<div id="t220" class="t nr" style="left:875.97px;top:679.85px;font-size:11.4px;transform:scaleX(1.1260);">15,0%</div>
<div class="r" style="left:12px;top:714px;width:330px;height:1px;background:#d4d4d4"></div>
<div id="t221" class="t nm" style="left:14.47px;top:698.92px;font-size:12.5px;transform:scaleX(1.0608);">Ftse Italia Viaggi e Tempo Libero</div>
<div id="t222" class="t nr" style="left:356.60px;top:699.85px;font-size:11.4px;transform:scaleX(1.1260);">43.297,04</div>
<div id="t223" class="t nb" style="left:465.68px;top:699.85px;font-size:11.4px;transform:scaleX(1.1260);">-0,8%</div>
<div id="t224" class="t nr" style="left:570.64px;top:699.85px;font-size:11.4px;transform:scaleX(1.1260);">2,2%</div>
<div id="t225" class="t nr" style="left:670.49px;top:699.85px;font-size:11.4px;transform:scaleX(1.1260);">13,7%</div>
<div id="t226" class="t nr" style="left:772.97px;top:699.85px;font-size:11.4px;transform:scaleX(1.1260);">16,9%</div>
<div id="t227" class="t nr" style="left:875.97px;top:699.85px;font-size:11.4px;transform:scaleX(1.1260);">21,2%</div>
<div id="t228" class="t nm" style="left:14.46px;top:718.92px;font-size:12.5px;transform:scaleX(1.0370);">Ftse Italia Telecomunicazioni</div>
<div id="t229" class="t nr" style="left:357.16px;top:719.85px;font-size:11.4px;transform:scaleX(1.1260);">11.686,44</div>
<div id="t230" class="t nb" style="left:465.68px;top:719.85px;font-size:11.4px;transform:scaleX(1.1260);">-1,5%</div>
<div id="t231" class="t nr" style="left:568.15px;top:719.85px;font-size:11.4px;transform:scaleX(1.1260);">-0,3%</div>
<div id="t232" class="t nr" style="left:673.97px;top:719.85px;font-size:11.4px;transform:scaleX(1.1260);">0,7%</div>
<div id="t233" class="t nr" style="left:772.97px;top:719.85px;font-size:11.4px;transform:scaleX(1.1260);">13,4%</div>
<div id="t234" class="t nr" style="left:875.97px;top:719.85px;font-size:11.4px;transform:scaleX(1.1260);">15,2%</div>
<div class="r" style="left:11px;top:734px;width:934px;height:2px;background:#d6625e"></div>
<div class="r" style="left:11px;top:734px;width:5px;height:2px;background:#94645e"></div>
<div class="r" style="left:943px;top:734px;width:2px;height:2px;background:#94645e"></div>
<div id="t235" class="t fo" style="left:638.33px;top:739.94px;font-size:12px;transform:scaleX(1.2080);">Fonte: Bloomberg, elaborazione Market Insight</div>
</body></html>
